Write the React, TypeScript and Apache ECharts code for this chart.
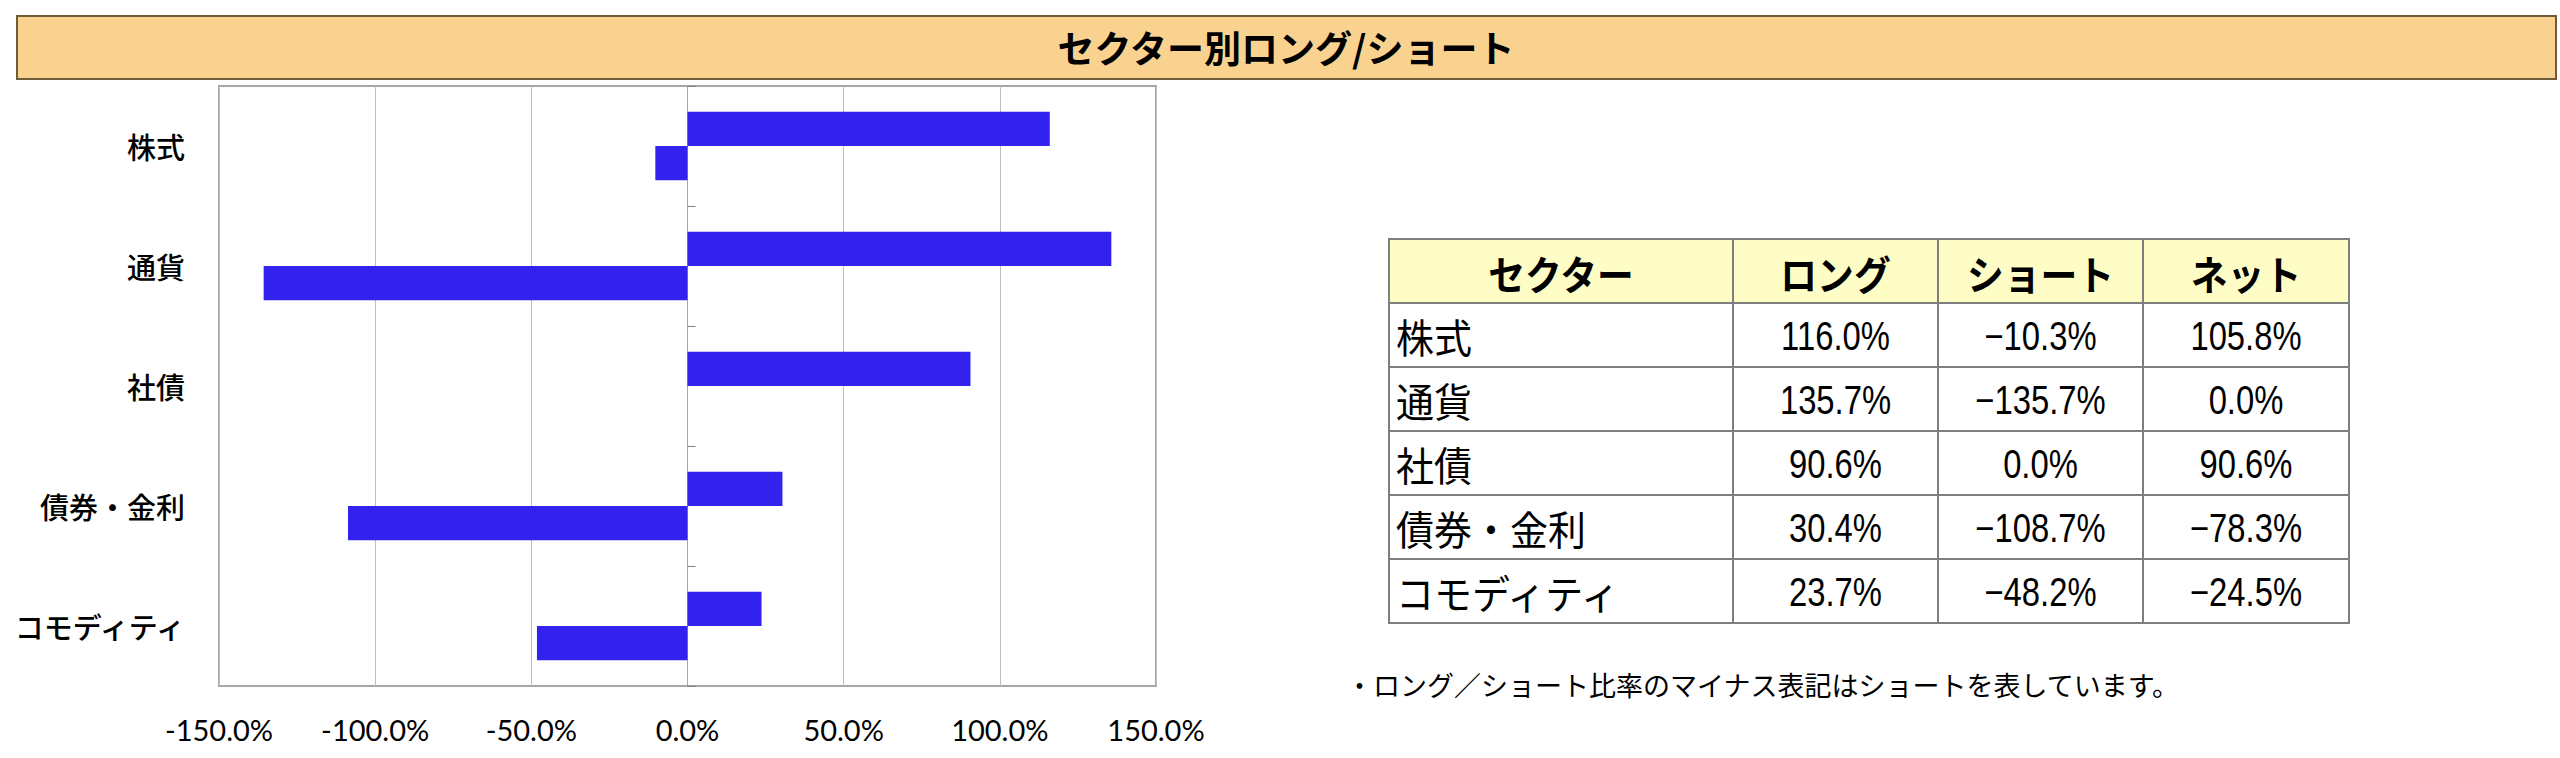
import React, { useEffect, useRef } from 'react';
import * as echarts from 'echarts';

const categories = ['株式', '通貨', '社債', '債券・金利', 'コモディティ'];
const longValues = [116.0, 135.7, 90.6, 30.4, 23.7];
const shortValues = [-10.3, -135.7, 0.0, -108.7, -48.2];
const netValues = [105.8, 0.0, 90.6, -78.3, -24.5];
const tableHeaders = ['セクター', 'ロング', 'ショート', 'ネット'];
const titleText = 'セクター別ロング/ショート';
const noteText = '・ロング／ショート比率のマイナス表記はショートを表しています。';

const JP = '"Noto Sans CJK JP", "Noto Sans", sans-serif';

function fmt(v: number): string {
  return (v < 0 ? '−' : '') + Math.abs(v).toFixed(1) + '%';
}

export default function App() {
  const ref = useRef<HTMLDivElement>(null);
  useEffect(() => {
    const chart = echarts.init(ref.current!, null, { renderer: 'svg' });

    const graphics: any[] = [];
    // title bar
    graphics.push({
      type: 'rect',
      shape: { x: 17, y: 16, width: 2539, height: 63 },
      style: { fill: '#FAD290', stroke: '#6E5B3A', lineWidth: 2 },
      silent: true,
    });
    graphics.push({
      type: 'text',
      x: 1286,
      y: 47,
      style: {
        text: titleText,
        fontFamily: JP,
        fontSize: 37,
        fontWeight: 'bold',
        fill: '#000',
        align: 'center',
        verticalAlign: 'middle',
      },
    });

    // table
    const tTop = 239;
    const rowH = 64;
    const colX = [1389, 1733, 1938, 2143, 2349];
    const rows: string[][] = [tableHeaders];
    categories.forEach((c, i) => {
      rows.push([c, fmt(longValues[i]), fmt(shortValues[i]), fmt(netValues[i])]);
    });
    rows.forEach((row, r) => {
      const y = tTop + r * rowH;
      row.forEach((cell, c) => {
        const x0 = colX[c];
        const w = colX[c + 1] - x0;
        graphics.push({
          type: 'rect',
          shape: { x: x0, y, width: w, height: rowH },
          style: { fill: r === 0 ? '#FFFDC6' : '#FFFFFF', stroke: '#7F7F7F', lineWidth: 2 },
          silent: true,
        });
        const isHeader = r === 0;
        const isLabel = c === 0 && !isHeader;
        graphics.push({
          type: 'text',
          x: isLabel ? x0 + 7 : x0 + w / 2,
          y: y + rowH / 2 + 1,
          scaleX: isHeader ? 0.92 : isLabel ? 0.95 : 0.82,
          style: {
            text: cell,
            fontFamily: isHeader || isLabel ? JP : '"Liberation Sans", Arial, sans-serif',
            fontSize: 40,
            fontWeight: isHeader ? 'bold' : 'normal',
            fill: '#000',
            align: isLabel ? 'left' : 'center',
            verticalAlign: 'middle',
          },
        });
      });
    });

    graphics.push({
      type: 'text',
      x: 1346,
      y: 684,
      style: {
        text: noteText,
        fontFamily: JP,
        fontSize: 27,
        fill: '#000',
        align: 'left',
        verticalAlign: 'middle',
      },
    });

    const option: any = {
      animation: false,
      backgroundColor: '#FFFFFF',
      grid: {
        left: 219,
        right: 2560 - 1156,
        top: 86,
        bottom: 758 - 686,
        show: true,
        borderColor: '#A6A6A6',
        borderWidth: 2,
        backgroundColor: 'transparent',
        containLabel: false,
      },
      xAxis: {
        type: 'value',
        min: -150,
        max: 150,
        interval: 50,
        axisLine: { show: false },
        axisTick: { show: false },
        splitLine: { show: true, lineStyle: { color: '#BFBFBF', width: 1 } },
        axisLabel: {
          formatter: (v: number) => v.toFixed(1) + '%',
          fontFamily: 'Lato, "Open Sans", sans-serif',
          fontSize: 29,
          color: '#000',
          margin: 29,
          verticalAlign: 'top',
        },
      },
      yAxis: [
        {
          type: 'category',
          data: categories,
          inverse: true,
          position: 'left',
          axisLine: { show: false, onZero: false },
          axisTick: { show: false },
          splitLine: { show: false },
          axisLabel: {
            fontFamily: JP,
            fontSize: 29,
            fontWeight: 500,
            color: '#000',
            margin: 34,
            padding: [0, 0, 8, 0],
          },
        },
        {
          type: 'category',
          data: categories,
          inverse: true,
          position: 'left',
          axisLine: { show: true, onZero: true, lineStyle: { color: '#A6A6A6', width: 1 } },
          axisTick: { show: true, inside: true, length: 8, lineStyle: { color: '#808080', width: 1 } },
          splitLine: { show: false },
          axisLabel: { show: false },
        },
      ],
      series: [
        {
          name: 'ロング',
          type: 'bar',
          data: longValues,
          yAxisIndex: 0,
          barGap: '0%',
          barCategoryGap: '43%',
          itemStyle: { color: '#3322EE' },
        },
        {
          name: 'ショート',
          type: 'bar',
          data: shortValues,
          yAxisIndex: 0,
          barGap: '0%',
          barCategoryGap: '43%',
          itemStyle: { color: '#3322EE' },
        },
      ],
      graphic: graphics,
    };
    chart.setOption(option);
    return () => chart.dispose();
  }, []);
  return (
    <div
      ref={ref}
      style={{ position: 'fixed', left: 0, top: 0, width: 2560, height: 758, background: '#fff' }}
    />
  );
}
